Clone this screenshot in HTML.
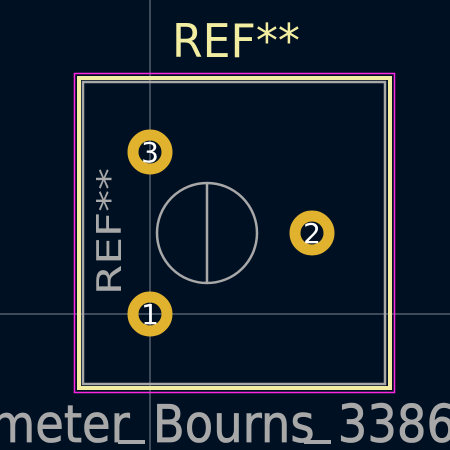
<!DOCTYPE html>
<html><head><meta charset="utf-8"><style>
html,body{margin:0;padding:0;background:#001023;}
svg{display:block;}
</style></head><body>
<svg width="450" height="450" viewBox="0 0 450 450">
<rect x="0" y="0" width="450" height="450" fill="#001023"/>
<line x1="150" y1="0" x2="150" y2="450" stroke="#7d8591" stroke-width="1"/>
<line x1="0" y1="314" x2="450" y2="314" stroke="#7d8591" stroke-width="1"/>
<rect x="74.5" y="73.5" width="320" height="319" fill="none" stroke="#ff26e2" stroke-width="1.5"/>
<rect x="79" y="78" width="311" height="310" fill="none" stroke="#f2eda1" stroke-width="4"/>
<rect x="83" y="82" width="302" height="302" fill="none" stroke="#a8a8a8" stroke-width="2.5"/>
<circle cx="207" cy="233" r="50" fill="none" stroke="#a8a8a8" stroke-width="2.5"/>
<line x1="207" y1="183" x2="207" y2="283" stroke="#a8a8a8" stroke-width="2.5"/>
<g>
<circle cx="150" cy="152" r="17" fill="none" stroke="#e0b22e" stroke-width="11"/>
<text x="150" y="162" text-anchor="middle" font-family="DejaVu Sans, sans-serif" font-size="28" fill="#ffffff">3</text>
</g>
<g>
<circle cx="150" cy="314" r="17" fill="none" stroke="#e0b22e" stroke-width="11"/>
<text x="150" y="324" text-anchor="middle" font-family="DejaVu Sans, sans-serif" font-size="28" fill="#ffffff">1</text>
</g>
<g>
<circle cx="312" cy="233" r="17" fill="none" stroke="#e0b22e" stroke-width="11"/>
<text x="312" y="243" text-anchor="middle" font-family="DejaVu Sans, sans-serif" font-size="28" fill="#ffffff">2</text>
</g>
<text x="172" y="57" textLength="128" lengthAdjust="spacingAndGlyphs" font-family="DejaVu Sans, sans-serif" font-size="46" fill="#f2eda1">REF**</text>
<text transform="translate(121,295) rotate(-90)" x="0" y="0" textLength="127" lengthAdjust="spacingAndGlyphs" font-family="DejaVu Sans, sans-serif" font-size="34" fill="#a8a8a8">REF**</text>
<text x="-10" y="442" textLength="466" lengthAdjust="spacingAndGlyphs" font-family="DejaVu Sans, sans-serif" font-size="52" fill="#a8a8a8" stroke="#a8a8a8" stroke-width="0.8">meter_Bourns_3386</text>
<rect x="118" y="440" width="27" height="4" fill="#a8a8a8"/>
<rect x="304" y="440" width="27" height="4" fill="#a8a8a8"/>
</svg>
</body></html>
